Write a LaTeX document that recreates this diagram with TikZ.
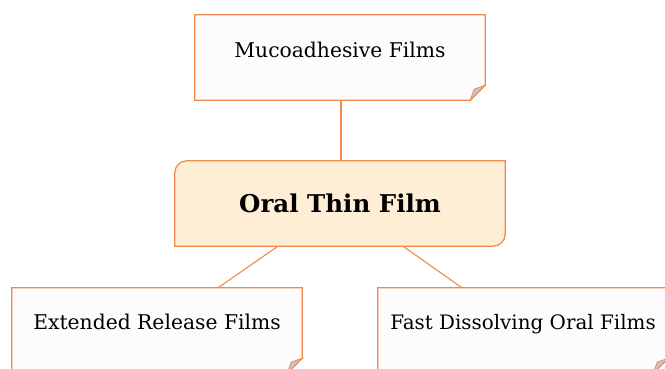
\documentclass[tikz,border=0pt]{standalone}
\usepackage{fontspec}
\setmainfont{DejaVu Serif}
\definecolor{edge}{HTML}{F0894A}
\definecolor{notefill}{HTML}{FEFBFE}
\definecolor{mainfill}{HTML}{FFEED6}
\definecolor{foldfill}{HTML}{C9C3CB}
\tikzset{
  slot/.style={minimum width=290pt, minimum height=85pt, inner sep=0pt},
  label/.style={anchor=base, inner sep=0pt, font=\fontsize{20.3}{24}\selectfont},
  boxline/.style={draw=edge, line width=1.2pt},
  link/.style={draw=edge, line width=1.1pt}
}
\begin{document}
\begin{tikzpicture}[x=1pt,y=1pt]
\useasboundingbox (0,0) rectangle (665,368);
\clip (0,0) rectangle (665,368);
% nodes
\node[slot] (muco) at (340,310.5) {};
\node[slot, minimum width=330pt] (otf) at (340,164.5) {};
\node[slot] (erf) at (157,37.5) {};
\node[slot] (fdof) at (523,37.5) {};
% connectors
\draw[link] ([xshift=1pt]muco.south) -- ([xshift=1pt]otf.north);
\draw[link] ([xshift=-62pt]otf.south) -- ([xshift=61pt]erf.north);
\draw[link] ([xshift=63pt]otf.south) -- ([xshift=-61pt]fdof.north);
% note shapes
\foreach \n in {muco,erf,fdof}{
  \draw[boxline, fill=notefill] (\n.north west) -- (\n.north east) -- ([yshift=15pt]\n.south east) -- ([xshift=-15pt]\n.south east) -- (\n.south west) -- cycle;
  \draw[draw=edge, line width=0.8pt, fill=foldfill] ([xshift=-15pt]\n.south east) -- ([xshift=-11pt,yshift=11pt]\n.south east) -- ([yshift=15pt]\n.south east) -- cycle;
}
% main shape
\draw[boxline, fill=mainfill] ([yshift=-12pt]otf.north west) arc[start angle=180,end angle=90,radius=12pt] -- (otf.north east) -- ([yshift=12pt]otf.south east) arc[start angle=0,end angle=-90,radius=12pt] -- (otf.south west) -- cycle;
% texts
\node[label] (tmuco) at ([yshift=0.5pt]muco.center) {Mucoadhesive Films};
\node[label, font=\fontsize{24.5}{28}\selectfont\bfseries] (totf) at ([yshift=-8.5pt]otf.center) {Oral Thin Film};
\node[label] (terf) at ([yshift=1.5pt]erf.center) {Extended Release Films};
\node[label, font=\fontsize{19.9}{24}\selectfont] (tfdof) at ([yshift=1.5pt]fdof.center) {Fast Dissolving Oral Films};
\end{tikzpicture}
\end{document}
